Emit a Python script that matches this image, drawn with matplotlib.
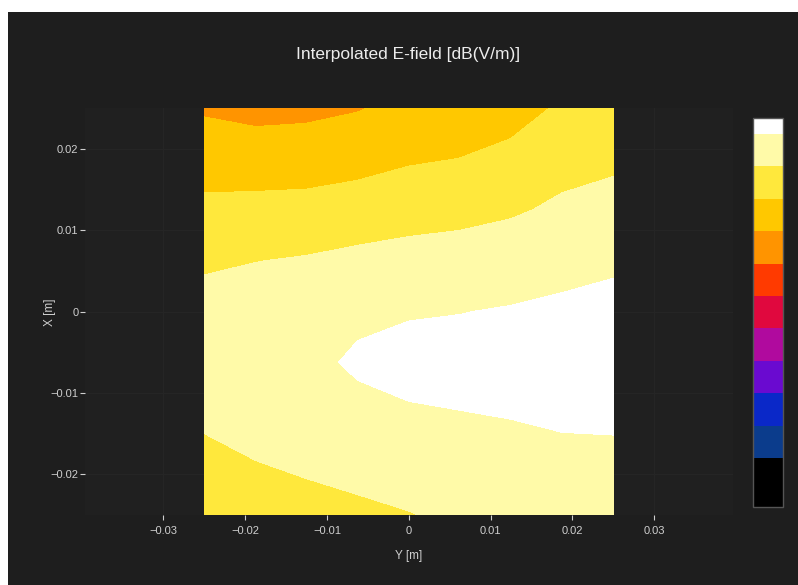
import numpy as np
import matplotlib
matplotlib.use("Agg")
import matplotlib.pyplot as plt
from matplotlib.patches import Rectangle

plt.rcParams['font.family'] = ['Liberation Sans', 'DejaVu Sans']

# ---- data ----
# horizontal axis ("Y [m]") and vertical axis ("X [m]") grid positions
y_pos = [-0.025, -0.01875, -0.0125, -0.00625, 0.0, 0.00625, 0.0125, 0.01875, 0.025]
x_pos = [0.025, 0.01875, 0.0125, 0.00625, 0.0, -0.00625, -0.0125, -0.01875, -0.025]  # rows top->bottom

# E-field in dB(V/m); each row is one X position (top to bottom), columns follow y_pos
field_rows = [
    [104.4, 103.5, 103.8, 104.7, 106.5, 107.2, 108.2, 110.6, 112.0],
    [107.8, 107.6, 107.8, 108.4, 109.5, 110.05, 111.2, 113.4, 114.2],
    [111.1, 111.35, 111.5, 112.2, 113.0, 113.5, 114.4, 115.8, 116.5],
    [114.3, 114.9, 115.4, 116.2, 116.8, 117.2, 117.8, 118.3, 119.2],
    [116.8, 117.5, 118.5, 119.2, 119.7, 119.9, 120.3, 121.0, 121.5],
    [117.5, 118.5, 119.0, 120.6, 121.3, 121.6, 121.8, 122.0, 122.3],
    [116.0, 117.5, 118.3, 118.9, 119.6, 119.9, 120.2, 120.6, 120.6],
    [113.5, 114.8, 115.8, 116.5, 117.3, 118.0, 118.5, 119.0, 119.2],
    [111.0, 112.0, 113.0, 114.0, 114.8, 116.0, 117.0, 117.5, 118.0],
]

# contour boundaries (dB) and their colours, low -> high
level_bounds = [62.5, 70, 75, 80, 85, 90, 95, 100, 105, 110, 115, 120, 122.4]
level_colors = ['#000000', '#0b3c8c', '#0a28c8', '#6a0ad0', '#b00a9e', '#e0083e',
                '#ff3a00', '#ff9400', '#ffc800', '#ffe83c', '#fffaa8', '#ffffff']

x_ticks = [-0.03, -0.02, -0.01, 0, 0.01, 0.02, 0.03]
x_tick_labels = ['\u22120.03', '\u22120.02', '\u22120.01', '0', '0.01', '0.02', '0.03']
y_ticks = [-0.02, -0.01, 0, 0.01, 0.02]
y_tick_labels = ['\u22120.02', '\u22120.01', '0', '0.01', '0.02']

# ---- figure ----
W, H = 798, 585
fig = plt.figure(figsize=(W / 100, H / 100), dpi=100, facecolor='white')
fig.patches.append(Rectangle((8 / W, 0), 1 - 8 / W, 1 - 12 / H, transform=fig.transFigure,
                             facecolor='#1e1e1e', edgecolor='none', zorder=-1))

ax_l, ax_r, ax_b, ax_t = 85.0, 732.6, 515.0, 108.0
ax = fig.add_axes([ax_l / W, 1 - ax_b / H, (ax_r - ax_l) / W, (ax_b - ax_t) / H])
ax.set_facecolor('#202020')

Z = np.array(field_rows)
Ygrid, Xgrid = np.meshgrid(np.array(y_pos), np.array(x_pos))
cs = ax.contourf(Ygrid, Xgrid, Z, levels=level_bounds, colors=level_colors, zorder=2)

ax.set_xlim(-0.0396, 0.0396)
ax.set_ylim(-0.025, 0.025)
for s in ax.spines.values():
    s.set_visible(False)
ax.set_xticks(x_ticks)
ax.set_xticklabels(x_tick_labels)
ax.set_yticks(y_ticks)
ax.set_yticklabels(y_tick_labels)
ax.tick_params(colors='#cfcfcf', labelsize=8, length=3.3, width=0.8, direction='out')
ax.tick_params(axis='x', pad=4.3)
ax.tick_params(axis='y', pad=1.5)
ax.grid(True, color='#252525', linewidth=1, zorder=1)
ax.set_axisbelow(True)

fig.text(408.5 / W, 1 - 55 / H, 'Interpolated E-field [dB(V/m)]', ha='center', va='center',
         fontsize=12.5, color='#ececec')
fig.text(408.5 / W, 1 - 556 / H, 'Y [m]', ha='center', va='center', fontsize=8.5, color='#cfcfcf')
fig.text(50 / W, 1 - 312 / H, 'X [m]', ha='center', va='center', fontsize=8.5,
         color='#cfcfcf', rotation=90)

cb_l, cb_r, cb_b, cb_t = 753.3, 782.7, 506.7, 118.3
cax = fig.add_axes([cb_l / W, 1 - cb_b / H, (cb_r - cb_l) / W, (cb_b - cb_t) / H])
cb = fig.colorbar(cs, cax=cax, spacing='proportional')
cb.set_ticks([])
cb.outline.set_edgecolor('#555555')
cb.outline.set_linewidth(1)

fig.savefig('out.png', dpi=100, facecolor=fig.get_facecolor())
